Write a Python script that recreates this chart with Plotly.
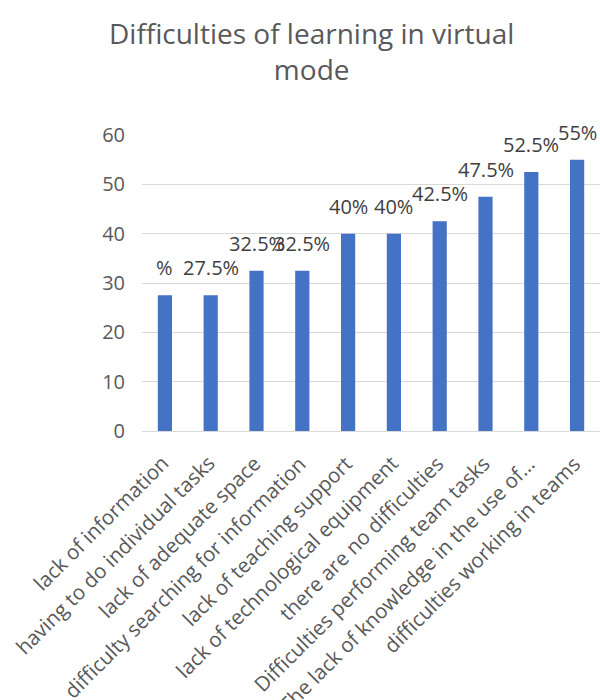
import plotly.graph_objects as go

categories = [
    "lack of information",
    "having to do individual tasks",
    "lack of adequate space",
    "difficulty searching for information",
    "lack of teaching support",
    "lack of technological equipment",
    "there are no difficulties",
    "Difficulties performing team tasks",
    "The lack of knowledge in the use of…",
    "difficulties working in teams",
]
values = [27.5, 27.5, 32.5, 32.5, 40, 40, 42.5, 47.5, 52.5, 55]
value_labels = ["%", "27.5%", "32.5%", "32.5%", "40%", "40%", "42.5%", "47.5%", "52.5%", "55%"]
y_ticks = [0, 10, 20, 30, 40, 50, 60]

FONT = "Open Sans"
TEXT = "#595959"
GRID = "#d9d9d9"

fig = go.Figure()
fig.add_trace(go.Bar(
    x=categories,
    y=values,
    marker=dict(color="#4472C4", line=dict(width=0)),
    hoverinfo="x+y",
))

# value labels above each bar
for cat, val, lab in zip(categories, values, value_labels):
    fig.add_annotation(
        x=cat, y=val, xref="x", yref="y",
        text=lab, showarrow=False,
        yanchor="bottom", xanchor="center",
        yshift=12,
        font=dict(family=FONT, size=20, color="#404040"),
    )

# category labels, rotated so each one ends just under its bar
for cat in categories:
    fig.add_annotation(
        x=cat, y=0, xref="x", yref="y",
        text=cat, showarrow=False,
        textangle=-45,
        xanchor="right", yanchor="top",
        xshift=12, yshift=-16,
        font=dict(family=FONT, size=20.5, color=TEXT),
    )

# chart title, two centred lines above the plot area
fig.add_annotation(
    text="Difficulties of learning in virtual<br>mode",
    xref="paper", yref="paper",
    x=(311 - 142) / 458, y=1 + (135 - 12) / 296,
    xanchor="center", yanchor="top",
    showarrow=False, align="center",
    font=dict(family=FONT, size=28, color=TEXT),
)

fig.update_layout(
    width=600, height=700,
    paper_bgcolor="white", plot_bgcolor="white",
    margin=dict(l=142, r=0, t=135, b=269),
    bargap=0.69,
    showlegend=False,
    xaxis=dict(
        range=[-0.5, len(categories) - 0.5],
        autorange=False,
        showticklabels=False,
        showline=True, linecolor=GRID, linewidth=1,
        showgrid=False, ticks="",
        automargin=False,
    ),
    yaxis=dict(
        range=[0, 60],
        autorange=False,
        tickvals=y_ticks,
        tickfont=dict(family=FONT, size=20, color=TEXT),
        showgrid=True, gridcolor=GRID, gridwidth=1,
        zeroline=False, showline=False, ticks="",
        automargin=False,
        ticklabelstandoff=16,
    ),
)

fig.write_html("out.html")
